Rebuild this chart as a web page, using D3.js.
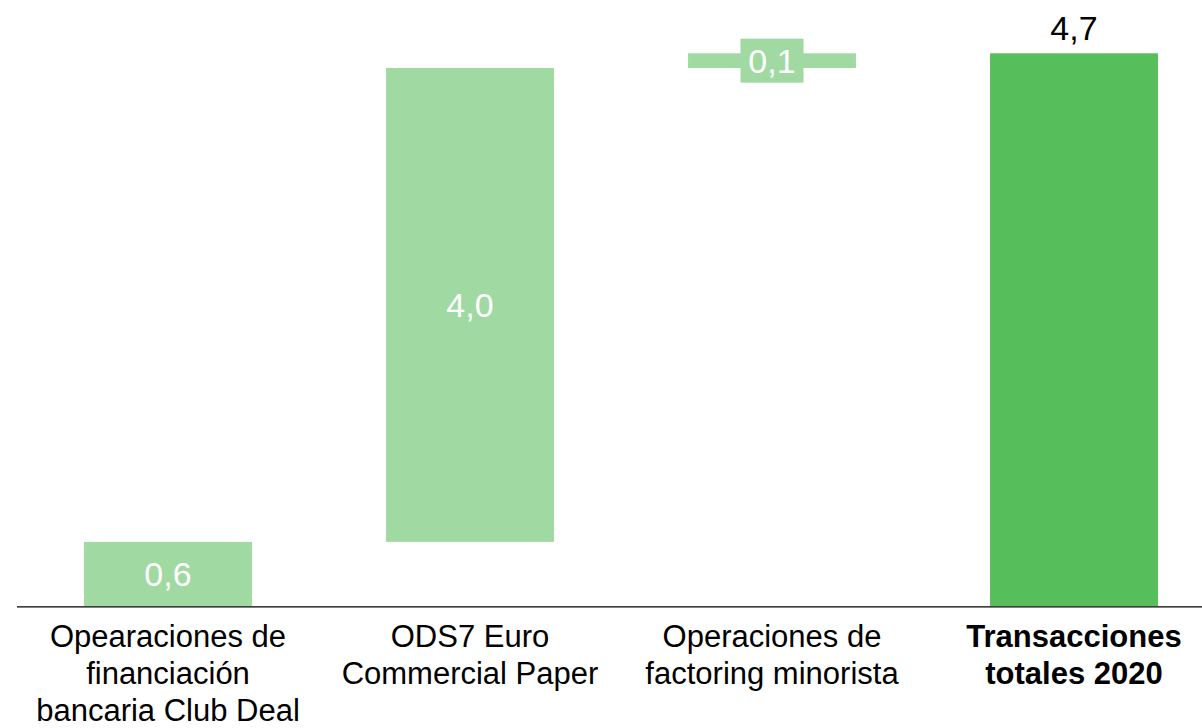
<!DOCTYPE html>
<html>
<head>
<meta charset="utf-8">
<script src="https://cdn.jsdelivr.net/npm/d3@7"></script>
<style>
  html, body { margin: 0; padding: 0; background: #ffffff; }
  svg { display: block; font-family: "Liberation Sans", Arial, sans-serif; }
</style>
</head>
<body>
<svg id="chart" width="1202" height="728"></svg>
<script>
// ---- data ----
const categories = [
  ["Opearaciones de", "financiación", "bancaria Club Deal"],
  ["ODS7 Euro", "Commercial Paper"],
  ["Operaciones de", "factoring minorista"],
  ["Transacciones", "totales 2020"]
];
const categoryKeys = ["club", "ods7", "factoring", "total"];
const stepValues = [0.545, 4.03, 0.125];
const totalValue = 4.70;
const valueLabels = ["0,6", "4,0", "0,1", "4,7"];

// ---- layout ----
const svg = d3.select("#chart");
const baseY = 606;
const topY = 53.3;

const x = d3.scaleBand()
  .domain(categoryKeys)
  .range([17, 1225])
  .paddingInner(0.444)
  .paddingOuter(0.222);

const y = d3.scaleLinear()
  .domain([0, 4.7])
  .range([baseY, topY]);

// build waterfall records
let cum = 0;
const records = stepValues.map((v, i) => {
  const r = { key: categoryKeys[i], start: cum, end: cum + v, label: valueLabels[i], total: false };
  cum += v;
  return r;
});
records.push({ key: categoryKeys[3], start: 0, end: totalValue, label: valueLabels[3], total: true });

const light = "#A0DAA2";
const dark = "#56BE5B";

// bars
svg.append("g").selectAll("rect")
  .data(records)
  .join("rect")
  .attr("x", d => x(d.key))
  .attr("width", x.bandwidth())
  .attr("y", d => y(d.end))
  .attr("height", d => y(d.start) - y(d.end))
  .attr("fill", d => d.total ? dark : light);

// baseline axis
svg.append("line")
  .attr("x1", 17).attr("x2", 1202)
  .attr("y1", baseY + 0.8).attr("y2", baseY + 0.8)
  .attr("stroke", "#000").attr("stroke-width", 1.3);

// value labels
const valFont = 34;
records.forEach((d, i) => {
  const cx = x(d.key) + x.bandwidth() / 2;
  if (d.total) {
    svg.append("text")
      .attr("x", cx).attr("y", y(d.end) - 13)
      .attr("text-anchor", "middle")
      .attr("font-size", valFont)
      .attr("fill", "#000")
      .text(d.label);
  } else {
    const cy = (y(d.start) + y(d.end)) / 2;
    if (i === 2) {
      // small bar: label on green box
      svg.append("rect")
        .attr("x", cx - 31.5).attr("y", cy - 22)
        .attr("width", 63).attr("height", 44)
        .attr("fill", light);
    }
    svg.append("text")
      .attr("x", cx).attr("y", cy + 12)
      .attr("text-anchor", "middle")
      .attr("font-size", valFont)
      .attr("fill", "#fff")
      .text(d.label);
  }
});

// category labels
categories.forEach((lines, i) => {
  const cx = x(categoryKeys[i]) + x.bandwidth() / 2;
  const t = svg.append("text")
    .attr("text-anchor", "middle")
    .attr("font-size", 31)
    .attr("font-weight", i === 3 ? "bold" : "normal")
    .attr("fill", "#000");
  lines.forEach((ln, j) => {
    t.append("tspan").attr("x", cx).attr("y", 647 + j * 37).text(ln);
  });
});
</script>
</body>
</html>
